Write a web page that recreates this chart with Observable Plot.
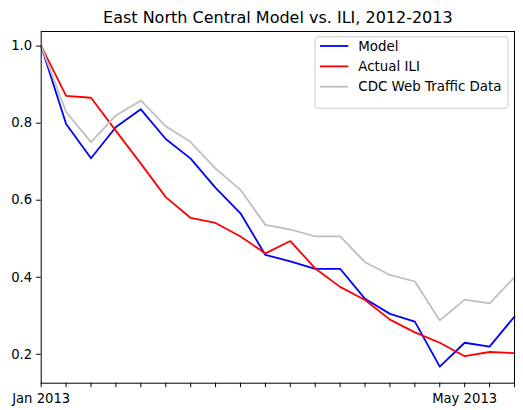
<!DOCTYPE html>
<html>
<head>
<meta charset="utf-8">
<script src="https://cdn.jsdelivr.net/npm/d3@7"></script>
<script src="https://cdn.jsdelivr.net/npm/@observablehq/plot@0.6"></script>
<style>
  html, body { margin: 0; padding: 0; background: #fff; }
  svg { font-family: "DejaVu Sans", sans-serif; }
</style>
</head>
<body>
<div id="chart"></div>
<script>
const titleText = "East North Central Model vs. ILI, 2012-2013";

const weeks = ["2013-01-05","2013-01-12","2013-01-19","2013-01-26","2013-02-02","2013-02-09",
  "2013-02-16","2013-02-23","2013-03-02","2013-03-09","2013-03-16","2013-03-23","2013-03-30",
  "2013-04-06","2013-04-13","2013-04-20","2013-04-27","2013-05-04","2013-05-11","2013-05-18"];

const xTickLabels = ["Jan 2013","","","","","","","","","","","","","","","","","May 2013","",""];
const yTicks = [0.2, 0.4, 0.6, 0.8, 1.0];

const model  = [1.0, 0.798, 0.709, 0.790, 0.836, 0.759, 0.708, 0.632, 0.566, 0.458, 0.441, 0.422, 0.422, 0.344, 0.305, 0.285, 0.168, 0.230, 0.220, 0.298];
const actual = [1.0, 0.871, 0.866, 0.780, 0.695, 0.608, 0.554, 0.541, 0.506, 0.462, 0.494, 0.423, 0.375, 0.341, 0.290, 0.257, 0.230, 0.195, 0.206, 0.203];
const cdc    = [1.0, 0.829, 0.751, 0.820, 0.859, 0.792, 0.751, 0.682, 0.627, 0.536, 0.524, 0.506, 0.506, 0.439, 0.406, 0.389, 0.288, 0.342, 0.332, 0.400];

const seriesNames  = ["Model", "Actual ILI", "CDC Web Traffic Data"];
const seriesValues = [model, actual, cdc];
const seriesColors = ["#0000ff", "#ff0000", "#bfbfbf"];

const dates = weeks.map(s => new Date(s + "T00:00:00Z"));
const labelFor = new Map(dates.map((d, i) => [+d, xTickLabels[i]]));

const rows = [];
seriesNames.forEach((name, k) => {
  seriesValues[k].forEach((v, i) => rows.push({date: dates[i], value: v, series: name}));
});

const W = 523, H = 410;
const plot = Plot.plot({
  width: W,
  height: H,
  marginLeft: 40.7,
  marginRight: 9,
  marginTop: 31,
  marginBottom: 27.3,
  style: {background: "#fff", fontFamily: "DejaVu Sans, sans-serif", overflow: "visible"},
  x: {type: "utc", domain: [dates[0], dates[dates.length - 1]], label: null},
  y: {domain: [0.125, 1.038], label: null},
  color: {domain: seriesNames, range: seriesColors},
  marks: [
    Plot.line(rows, {x: "date", y: "value", z: "series", stroke: "series", strokeWidth: 1.8}),
    Plot.frame({stroke: "#000", strokeWidth: 1}),
    Plot.axisY({ticks: yTicks, tickFormat: d3.format(".1f"), tickSize: 4.5, tickPadding: 4.5,
      fontSize: 13.2, fill: "#000", stroke: "#000", strokeOpacity: 1, label: null}),
    Plot.axisX({ticks: dates, tickFormat: d => labelFor.get(+d) ?? "", tickSize: 4.5, tickPadding: 6,
      fontSize: 13.2, fill: "#000", stroke: "#000", strokeOpacity: 1, label: null}),
    Plot.text([titleText], {frameAnchor: "top", dy: -8.3, lineAnchor: "bottom", fontSize: 16, fill: "#000"})
  ]
});

document.getElementById("chart").appendChild(plot);

// Legend (upper right), matplotlib style
const svg = d3.select(plot);
const lg = svg.append("g").attr("text-anchor", "start");
lg.append("rect")
  .attr("x", 315).attr("y", 36.7).attr("width", 193).attr("height", 71.5)
  .attr("rx", 3).attr("ry", 3)
  .attr("fill", "#fff").attr("fill-opacity", 0.8)
  .attr("stroke", "#cccccc").attr("stroke-width", 1);
seriesNames.forEach((name, k) => {
  const y = 46 + k * 20.35;
  lg.append("line").attr("x1", 320).attr("x2", 348.3).attr("y1", y).attr("y2", y)
    .attr("stroke", seriesColors[k]).attr("stroke-width", 1.8);
  lg.append("text").attr("x", 358.3).attr("y", y).attr("dy", "0.35em")
    .attr("text-anchor", "start")
    .attr("font-size", 13.4).attr("fill", "#000").text(name);
});
</script>
</body>
</html>
